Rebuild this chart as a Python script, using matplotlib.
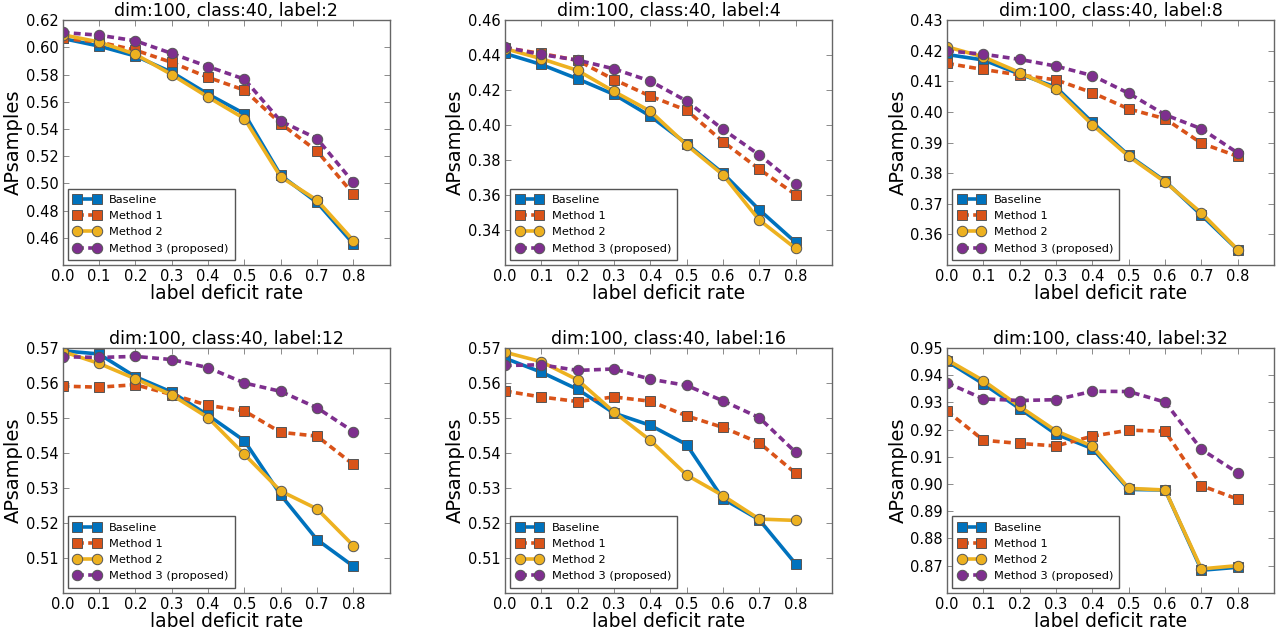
import matplotlib

matplotlib.use("Agg")
import matplotlib.pyplot as plt

# label deficit rate
rates = [0.0, 0.1, 0.2, 0.3, 0.4, 0.5, 0.6, 0.7, 0.8]
label_counts = [2, 4, 8, 12, 16, 32]
method_names = ["Baseline", "Method 1", "Method 2", "Method 3 (proposed)"]

# APsamples per panel (label count), per method
baseline = [
    [0.6066, 0.6010, 0.5937, 0.5818, 0.5657, 0.5513, 0.5060, 0.4860, 0.4556],
    [0.4410, 0.4347, 0.4265, 0.4176, 0.4052, 0.3894, 0.3725, 0.3516, 0.3330],
    [0.4188, 0.4170, 0.4124, 0.4081, 0.3966, 0.3858, 0.3774, 0.3663, 0.3549],
    [0.5692, 0.5683, 0.5618, 0.5574, 0.5508, 0.5435, 0.5280, 0.5152, 0.5076],
    [0.5671, 0.5631, 0.5582, 0.5514, 0.5479, 0.5424, 0.5269, 0.5209, 0.5083],
    [0.9451, 0.9368, 0.9277, 0.9183, 0.9130, 0.8980, 0.8978, 0.8683, 0.8694],
]
method1 = [
    [0.6066, 0.6040, 0.5980, 0.5890, 0.5780, 0.5686, 0.5440, 0.5238, 0.4921],
    [0.4442, 0.4410, 0.4370, 0.4261, 0.4166, 0.4085, 0.3906, 0.3748, 0.3603],
    [0.4159, 0.4139, 0.4121, 0.4105, 0.4063, 0.4010, 0.3978, 0.3898, 0.3855],
    [0.5591, 0.5588, 0.5595, 0.5567, 0.5536, 0.5520, 0.5459, 0.5448, 0.5367],
    [0.5577, 0.5560, 0.5547, 0.5560, 0.5548, 0.5506, 0.5473, 0.5429, 0.5342],
    [0.9268, 0.9161, 0.9149, 0.9140, 0.9176, 0.9198, 0.9194, 0.8994, 0.8944],
]
method2 = [
    [0.6093, 0.6040, 0.5950, 0.5800, 0.5635, 0.5477, 0.5048, 0.4877, 0.4580],
    [0.4438, 0.4380, 0.4313, 0.4193, 0.4080, 0.3887, 0.3716, 0.3457, 0.3295],
    [0.4213, 0.4180, 0.4129, 0.4074, 0.3958, 0.3855, 0.3771, 0.3670, 0.3550],
    [0.5690, 0.5656, 0.5612, 0.5566, 0.5501, 0.5396, 0.5291, 0.5240, 0.5135],
    [0.5688, 0.5661, 0.5609, 0.5517, 0.5436, 0.5337, 0.5278, 0.5211, 0.5207],
    [0.9457, 0.9380, 0.9285, 0.9195, 0.9139, 0.8984, 0.8978, 0.8688, 0.8700],
]
method3 = [
    [0.6110, 0.6090, 0.6049, 0.5956, 0.5859, 0.5767, 0.5458, 0.5330, 0.5007],
    [0.4446, 0.4404, 0.4372, 0.4322, 0.4252, 0.4138, 0.3976, 0.3830, 0.3662],
    [0.4200, 0.4189, 0.4172, 0.4150, 0.4119, 0.4061, 0.3991, 0.3945, 0.3866],
    [0.5675, 0.5673, 0.5676, 0.5667, 0.5644, 0.5600, 0.5576, 0.5529, 0.5461],
    [0.5650, 0.5652, 0.5636, 0.5640, 0.5611, 0.5593, 0.5549, 0.5501, 0.5402],
    [0.9372, 0.9313, 0.9307, 0.9310, 0.9341, 0.9340, 0.9301, 0.9127, 0.9041],
]

y_limits = [(0.44, 0.62), (0.32, 0.46), (0.35, 0.43), (0.50, 0.57), (0.50, 0.57), (0.86, 0.95)]
y_steps = [0.02, 0.02, 0.01, 0.01, 0.01, 0.01]

# MATLAB-ish default colours
styles = [
    dict(color="#0072BD", marker="s", linestyle="-"),
    dict(color="#D95319", marker="s", linestyle=(0, (1.9, 1.2))),
    dict(color="#EDB120", marker="o", linestyle="-"),
    dict(color="#7E2F8E", marker="o", linestyle=(0, (1.9, 1.2))),
]

fig, axes = plt.subplots(2, 3, figsize=(12.78, 6.32), dpi=100)
fig.subplots_adjust(left=0.049, right=0.997, top=0.968, bottom=0.062,
                    wspace=0.352, hspace=0.339)

for i, ax in enumerate(axes.flat):
    series = [baseline[i], method1[i], method2[i], method3[i]]
    for name, vals, st in zip(method_names, series, styles):
        ax.plot(rates, vals, label=name, linewidth=2.6, markersize=7.5,
                markeredgecolor="#555555", markeredgewidth=0.7, **st)

    lo, hi = y_limits[i]
    step = y_steps[i]
    n = int(round((hi - lo) / step))
    ticks = [round(lo + k * step, 3) for k in range(1, n + 1)]
    ax.set_ylim(lo, hi)
    ax.set_yticks(ticks)
    ax.set_yticklabels([f"{t:.2f}" for t in ticks])
    ax.set_xlim(0.0, 0.9)
    ax.set_xticks(rates)
    ax.set_xticklabels([f"{r:.1f}" for r in rates])

    ax.tick_params(direction="in", length=4, width=0.6, color="#777777",
                   labelsize=10.5, top=True, right=True, pad=3)
    for sp in ax.spines.values():
        sp.set_color("#666666")
        sp.set_linewidth(1.0)

    ax.set_title(f"dim:100, class:40, label:{label_counts[i]}", fontsize=12.5, pad=3)
    ax.set_xlabel("label deficit rate", fontsize=13.5, labelpad=0)
    ax.set_ylabel("APsamples", fontsize=14, labelpad=2)

    leg = ax.legend(loc="lower left", fontsize=8.2, numpoints=2, fancybox=False,
                    framealpha=1, edgecolor="#555555", borderaxespad=0.45,
                    handlelength=2.3, labelspacing=0.55, borderpad=0.55)
    leg.get_frame().set_linewidth(1.0)

fig.savefig("out.png", dpi=100)
